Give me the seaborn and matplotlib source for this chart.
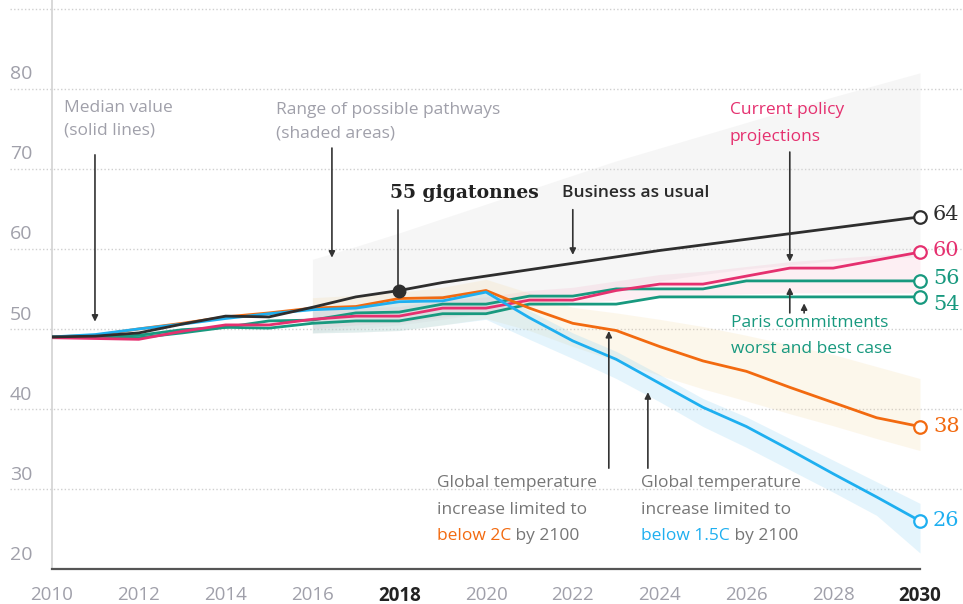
"""Global emissions pathways to 2030 (gigatonnes CO2e)"""
import matplotlib.pyplot as plt
import seaborn as sns

# ---- data ----
years = list(range(2010, 2031))
business_as_usual = [49.0, 49.1, 49.5, 50.6, 51.6, 51.5, 52.7, 54.0, 54.8, 55.8, 56.6,
                     57.4, 58.2, 59.0, 59.8, 60.5, 61.2, 61.9, 62.6, 63.3, 64.0]
current_policy = [48.9, 48.8, 48.7, 49.7, 50.5, 50.5, 51.2, 51.6, 51.6, 52.6, 52.6,
                  53.6, 53.6, 54.8, 55.6, 55.6, 56.6, 57.6, 57.6, 58.6, 59.6]
paris_worst = [49.0, 49.0, 49.2, 49.9, 50.2, 51.0, 51.1, 52.0, 52.1, 53.1, 53.1,
               54.1, 54.1, 55.0, 55.0, 55.0, 56.0, 56.0, 56.0, 56.0, 56.0]
paris_best = [49.0, 49.0, 48.9, 49.5, 50.2, 50.1, 50.7, 51.0, 51.0, 51.9, 51.9,
              53.1, 53.1, 53.1, 54.0, 54.0, 54.0, 54.0, 54.0, 54.0, 54.0]
below_2c = [49.0, 49.2, 50.0, 50.7, 51.5, 52.0, 52.6, 52.8, 53.8, 53.9, 54.8,
            52.6, 50.7, 49.8, 47.8, 46.0, 44.7, 42.7, 40.8, 38.9, 37.8]
below_15c = [49.0, 49.3, 50.0, 50.6, 51.3, 51.9, 52.4, 52.6, 53.4, 53.5, 54.6,
             51.4, 48.5, 46.2, 43.2, 40.2, 37.8, 34.9, 31.9, 29.0, 26.0]

# ranges of possible pathways (shaded areas)
band_years = list(range(2016, 2031))
bau_low = [49.5, 50.0, 50.5, 51.2, 52.0, 53.0, 54.0, 55.0, 56.0, 56.8, 57.5, 58.0, 58.5, 58.8, 59.0]
bau_high = [58.7, 60.3, 62.0, 63.8, 65.6, 67.4, 69.2, 71.0, 72.6, 74.2, 75.8, 77.4, 79.0, 80.5, 82.0]
policy_low = [50.0, 50.5, 50.8, 51.5, 52.0, 52.8, 53.2, 53.6, 54.0, 54.2, 54.4, 54.5, 54.5, 54.5, 54.5]
policy_high = [52.2, 52.6, 52.8, 53.6, 54.0, 54.8, 55.2, 56.0, 56.8, 57.2, 57.8, 58.4, 58.8, 59.2, 59.6]
c2_low = [49.5, 49.6, 49.8, 50.5, 51.3, 49.8, 47.8, 46.0, 44.2, 42.5, 41.0, 39.4, 37.9, 36.3, 34.8]
c2_high = [53.9, 54.2, 54.6, 55.2, 56.2, 54.5, 52.7, 52.0, 51.2, 50.3, 49.2, 48.0, 46.8, 45.3, 43.8]
c15_low = [49.5, 49.6, 49.8, 50.5, 51.2, 48.7, 46.3, 43.8, 40.9, 37.8, 35.2, 32.4, 29.6, 26.7, 22.0]
c15_high = [52.8, 53.0, 54.0, 54.2, 55.0, 52.3, 49.5, 47.2, 44.3, 41.3, 39.0, 36.3, 33.6, 30.9, 28.2]

y_grid = [30, 40, 50, 60, 70, 80, 90]
y_labels = [20, 30, 40, 50, 60, 70, 80]
x_ticks = list(range(2010, 2031, 2))

BLACK = '#2e2e2e'
PINK = '#e5306f'
GREEN = '#18997f'
ORANGE = '#f26a10'
BLUE = '#1eaff0'
GREY_TXT = '#a0a0aa'
DARK_TXT = '#767676'

sns.set_style('white')
plt.rcParams['font.family'] = ['Open Sans', 'DejaVu Sans']
SERIF = 'DejaVu Serif'

fig = plt.figure(figsize=(9.63, 6.04), dpi=100)
ax = fig.add_axes([52 / 963, 35 / 604, 868 / 963, 569 / 604])
ax.set_xlim(2010, 2030)
ax.set_ylim(20, 91.1)

# dotted gridlines running past the axes on both sides
for v in y_grid:
    ax.plot([2009.03, 2030.99], [v, v], color='#cfcfcf', lw=1.0,
            ls=(0, (1, 1.6)), clip_on=False, zorder=0.5)
for v in y_labels:
    ax.text(2009.03, v + 1.8, str(v), color=GREY_TXT, fontsize=14,
            ha='left', va='center', clip_on=False)

# shaded ranges
ax.fill_between(band_years, bau_low, bau_high, color='#dddddd', alpha=0.25, lw=0, zorder=1)
ax.fill_between(band_years, policy_low, policy_high, color='#f48fb1', alpha=0.14, lw=0, zorder=1)
ax.fill_between(band_years, c2_low, c2_high, color='#f3d495', alpha=0.18, lw=0, zorder=1)
ax.fill_between(band_years, c15_low, c15_high, color='#8fd3f5', alpha=0.24, lw=0, zorder=1)

# median lines
for vals, col in [(paris_best, GREEN), (paris_worst, GREEN), (current_policy, PINK),
                  (below_2c, ORANGE), (below_15c, BLUE), (business_as_usual, BLACK)]:
    sns.lineplot(x=years, y=vals, color=col, lw=2.0, ax=ax, zorder=3)
    ax.plot(years[-1], vals[-1], 'o', ms=9, mfc='white', mec=col, mew=1.6, zorder=4, clip_on=False)

ax.plot(years[8], business_as_usual[8], 'o', ms=9, color=BLACK, zorder=5)

# end labels
for vals, col, txt, dy in [(business_as_usual, BLACK, '64', 0.25), (current_policy, PINK, '60', 0.15),
                           (paris_worst, GREEN, '56', 0.25), (paris_best, GREEN, '54', -0.9),
                           (below_2c, ORANGE, '38', 0.0), (below_15c, BLUE, '26', 0.0)]:
    ax.text(2030.3, vals[-1] + dy, txt, color=col, fontsize=15, family=SERIF,
            ha='left', va='center', clip_on=False)

# axes styling
sns.despine(ax=ax, top=True, right=True)
ax.spines['left'].set_color('#d2d2d2')
ax.spines['left'].set_linewidth(1.2)
ax.spines['bottom'].set_color('#555555')
ax.spines['bottom'].set_linewidth(1.6)
ax.set_yticks([])
ax.set_xticks(x_ticks)
ax.set_xticklabels([str(x) for x in x_ticks])
ax.tick_params(axis='x', length=5, width=1.2, color='#c8c8c8', pad=7,
               labelsize=13.5, labelcolor=GREY_TXT)
for lab in ax.get_xticklabels():
    if lab.get_text() in ('2018', '2030'):
        lab.set_color('#222222')
        lab.set_fontweight('bold')
ax.set_xlabel('')
ax.set_ylabel('')


def lines_text(x, centers, lines, color, **kw):
    out = []
    for c, s in zip(centers, lines):
        out.append(ax.text(x, c, s, color=color, ha='left', va='center', fontsize=12.5, **kw))
    return out


def arrow(x, y_tail, y_head):
    ax.annotate('', xy=(x, y_head), xytext=(x, y_tail),
                arrowprops=dict(arrowstyle='-|>', color='#333333', lw=1.2,
                                mutation_scale=9, shrinkA=0, shrinkB=0), zorder=6)


lines_text(2010.28, [77.6, 74.75], ['Median value', '(solid lines)'], GREY_TXT)
arrow(2010.99, 71.75, 50.9)

lines_text(2015.16, [77.4, 74.4], ['Range of possible pathways', '(shaded areas)'], GREY_TXT)
arrow(2016.45, 72.6, 58.9)

ax.text(2017.79, 67.0, '55 gigatonnes', family=SERIF, fontweight='bold', fontsize=13.5,
        color='#222222', ha='left', va='center')
ax.plot([2017.97, 2017.97], [64.9, business_as_usual[8]], color='#333333', lw=1.2, zorder=4)

ax.text(2021.75, 67.0, 'Business as usual', fontweight='semibold', fontsize=12.5,
        color='#2a2a2a', ha='left', va='center')
arrow(2022.0, 64.9, 59.25)

lines_text(2025.62, [77.4, 74.0], ['Current policy', 'projections'], PINK)
arrow(2027.0, 72.1, 58.4)

lines_text(2025.65, [50.75, 47.5], ['Paris commitments', 'worst and best case'], GREEN)
arrow(2027.0, 52.0, 55.2)
arrow(2027.33, 52.0, 53.2)

for x0, tag, col in [(2018.87, 'below 2C', ORANGE), (2023.57, 'below 1.5C', BLUE)]:
    t = lines_text(x0, [30.75, 27.4, 24.1],
                   ['Global temperature', 'increase limited to', tag], DARK_TXT)
    t[2].set_color(col)
    ax.annotate(' by 2100', xy=(1, 0), xycoords=t[2], ha='left', va='bottom',
                color=DARK_TXT, fontsize=12.5)
arrow(2022.83, 32.6, 49.75)
arrow(2023.73, 32.6, 42.1)

fig.savefig('out.png', dpi=100)
plt.close(fig)
